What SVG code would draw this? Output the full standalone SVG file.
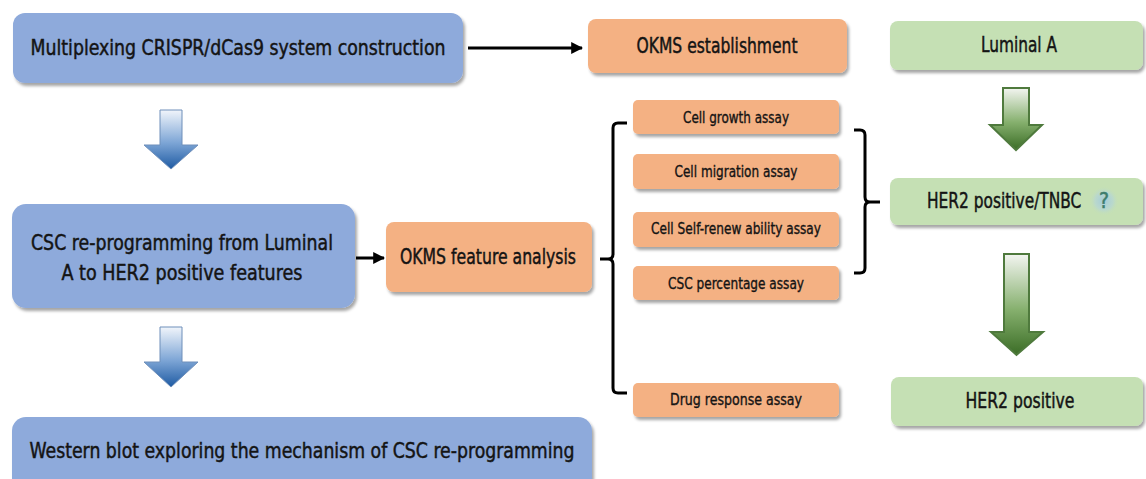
<svg xmlns="http://www.w3.org/2000/svg" width="1146" height="479" viewBox="0 0 1146 479">
  <defs>
    <filter id="shadow" x="-5%" y="-20%" width="115%" height="160%">
      <feDropShadow dx="2" dy="3" stdDeviation="1.8" flood-color="#000" flood-opacity="0.35"/>
    </filter>
    <linearGradient id="blueFlow" x1="0" y1="0" x2="0" y2="1">
      <stop offset="0" stop-color="#f1f5fb"/>
      <stop offset="0.55" stop-color="#7ea6d6"/>
      <stop offset="1" stop-color="#1f5ba3"/>
    </linearGradient>
    <linearGradient id="greenFlow" x1="0" y1="0" x2="0" y2="1">
      <stop offset="0" stop-color="#f3f5f1"/>
      <stop offset="0.55" stop-color="#86b06e"/>
      <stop offset="1" stop-color="#3b6d26"/>
    </linearGradient>
    <radialGradient id="glow" cx="0.5" cy="0.5" r="0.5">
      <stop offset="0" stop-color="#9fc8dc" stop-opacity="0.95"/>
      <stop offset="0.6" stop-color="#b2d3dc" stop-opacity="0.6"/>
      <stop offset="1" stop-color="#c5e0b4" stop-opacity="0"/>
    </radialGradient>
    <marker id="head" viewBox="0 0 10 10" refX="9" refY="5" markerWidth="4" markerHeight="4" markerUnits="strokeWidth" orient="auto">
      <path d="M0,0 L10,5 L0,10 Z" fill="#000"/>
    </marker>
  </defs>
  <style>
    .box { filter: url(#shadow); }
    .blue { fill: #8eaadb; }
    .orange { fill: #f4b183; }
    .green { fill: #c5e0b4; }
    text { font-family: "DejaVu Sans Condensed", "DejaVu Sans", sans-serif; fill: #141414; stroke: #141414; stroke-width: 0.45; text-anchor: middle; }
    .big { font-size: 21px; }
    .small { font-size: 15.5px; stroke-width: 0.35; }
    .query { fill: #3e7d6c; stroke: #3e7d6c; }
    .link { stroke: #000; stroke-width: 3; fill: none; }
    .bracket { stroke: #000; stroke-width: 3; fill: none; stroke-linejoin: round; }
    .barrow { fill: url(#blueFlow); stroke: #6f8fba; stroke-width: 1; }
    .garrow { fill: url(#greenFlow); stroke: #4f7a3d; stroke-width: 2; }
  </style>

  <rect width="1146" height="479" fill="#fff"/>

  <!-- connectors -->
  <g id="connectors">
    <line class="link" x1="468" y1="48" x2="582" y2="48" marker-end="url(#head)"/>
    <line class="link" x1="356" y1="258" x2="384" y2="258" marker-end="url(#head)"/>
    <!-- brace grouping all assays -->
    <path class="bracket" d="M627,123 H618 Q613,123 613,128 V254 Q613,259 608,259 H600 M608,259 Q613,259 613,264 V388 Q613,393 618,393 H627"/>
    <!-- bracket collecting the first four assays -->
    <path class="bracket" d="M854,130 H860 Q865,130 865,135 V197 Q865,202 870,202 H880 M870,202 Q865,202 865,207 V268 Q865,273 860,273 H854"/>
    <!-- block arrows -->
    <path class="barrow" d="M160,110 H182 V145 H198 L171,169 L144,145 H160 Z"/>
    <path class="barrow" d="M160,327 H182 V362 H198 L171,387 L144,362 H160 Z"/>
    <path class="garrow" d="M1003,88 H1029 V125 H1042 L1016,150 L990,125 H1003 Z"/>
    <path class="garrow" d="M1004,254 H1029 V332 H1043 L1016.5,355 L991,332 H1004 Z"/>
  </g>

  <!-- main workflow -->
  <g id="crispr-construction">
    <rect class="box blue" x="13" y="13" width="450" height="70" rx="12"/>
    <text class="big" x="238" y="55" textLength="415" lengthAdjust="spacingAndGlyphs">Multiplexing CRISPR/dCas9 system construction</text>
  </g>
  <g id="csc-reprogramming">
    <rect class="box blue" x="12" y="204" width="343" height="104" rx="14"/>
    <text class="big" x="182" y="250" textLength="302" lengthAdjust="spacingAndGlyphs">CSC re-programming from Luminal</text>
    <text class="big" x="182" y="280" textLength="241" lengthAdjust="spacingAndGlyphs">A to HER2 positive features</text>
  </g>
  <g id="western-blot">
    <rect class="box blue" x="12" y="417" width="580" height="80" rx="14"/>
    <text class="big" x="302" y="458" textLength="545" lengthAdjust="spacingAndGlyphs">Western blot exploring the mechanism of CSC re-programming</text>
  </g>

  <!-- OKMS -->
  <g id="okms-establishment">
    <rect class="box orange" x="588" y="19" width="259" height="54" rx="8"/>
    <text class="big" x="717" y="53" textLength="161" lengthAdjust="spacingAndGlyphs">OKMS establishment</text>
  </g>
  <g id="okms-feature-analysis">
    <rect class="box orange" x="386" y="222" width="206" height="70" rx="8"/>
    <text class="big" x="488" y="264" textLength="176" lengthAdjust="spacingAndGlyphs">OKMS feature analysis</text>
  </g>

  <!-- assays -->
  <g id="cell-growth-assay">
    <rect class="box orange" x="633" y="100" width="206" height="34" rx="5"/>
    <text class="small" x="736" y="123" textLength="106" lengthAdjust="spacingAndGlyphs">Cell growth assay</text>
  </g>
  <g id="cell-migration-assay">
    <rect class="box orange" x="633" y="154" width="206" height="35" rx="5"/>
    <text class="small" x="736" y="177" textLength="123" lengthAdjust="spacingAndGlyphs">Cell migration assay</text>
  </g>
  <g id="self-renew-assay">
    <rect class="box orange" x="633" y="212" width="206" height="35" rx="5"/>
    <text class="small" x="736" y="234" textLength="170" lengthAdjust="spacingAndGlyphs">Cell Self-renew ability assay</text>
  </g>
  <g id="csc-percentage-assay">
    <rect class="box orange" x="633" y="266" width="206" height="34" rx="5"/>
    <text class="small" x="736" y="289" textLength="136" lengthAdjust="spacingAndGlyphs">CSC percentage assay</text>
  </g>
  <g id="drug-response-assay">
    <rect class="box orange" x="633" y="383" width="206" height="34" rx="5"/>
    <text class="small" x="736" y="405" textLength="132" lengthAdjust="spacingAndGlyphs">Drug response assay</text>
  </g>

  <!-- subtype path -->
  <g id="luminal-a">
    <rect class="box green" x="890" y="21" width="253" height="49" rx="8"/>
    <text class="big" x="1019" y="52" textLength="76" lengthAdjust="spacingAndGlyphs">Luminal A</text>
  </g>
  <g id="her2-tnbc">
    <rect class="box green" x="890" y="178" width="253" height="47" rx="8"/>
    <circle cx="1104" cy="201" r="15" fill="url(#glow)"/>
    <text class="big" style="text-anchor:start" transform="translate(927,208) scale(0.816,1)">HER2 positive/TNBC</text>
    <text class="big query" x="1104" y="208">?</text>
  </g>
  <g id="her2-positive">
    <rect class="box green" x="891" y="377" width="252" height="49" rx="8"/>
    <text class="big" x="1020" y="408" textLength="109" lengthAdjust="spacingAndGlyphs">HER2 positive</text>
  </g>
</svg>
